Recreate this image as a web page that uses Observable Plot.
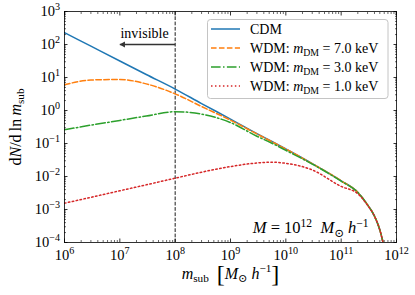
<!DOCTYPE html>
<html><head><meta charset="utf-8">
<script src="https://cdn.jsdelivr.net/npm/d3@7"></script>
<script src="https://cdn.jsdelivr.net/npm/@observablehq/plot@0.6"></script>
<style>
body{margin:0;background:#fff}
#chart{position:relative;width:415px;height:295px}
</style>
</head><body><div id="chart"></div>
<script>
// ---- data ----
const masses = [1e6, 3e6, 1e7, 3e7, 1e8, 3e8, 1e9, 3e9, 5.6e9, 1e10, 3e10, 1e11, 2e11, 3e11, 4e11, 5e11, 6e11];
const cdm  = [229, 89, 31.6, 12.3, 4.47, 1.62, 0.55, 0.20, 0.115, 0.068, 0.0245, 0.0074, 0.0033, 0.00138, 6.3e-4, 2.4e-4, 7e-5];
const wdm7 = [6.0, 8.4, 8.7, 6.4, 3.2, 1.32, 0.51, 0.195, 0.113, 0.068, 0.0245, 0.0074, 0.0033, 0.00138, 6.3e-4, 2.4e-4, 7e-5];
const wdm3 = [0.26, 0.36, 0.50, 0.68, 0.92, 0.78, 0.43, 0.166, 0.102, 0.062, 0.0238, 0.0072, 0.0033, 0.00138, 6.3e-4, 2.4e-4, 7e-5];
const wdm1 = [1.55e-3, 2.34e-3, 3.7e-3, 5.6e-3, 8.9e-3, 0.0135, 0.020, 0.0257, 0.0272, 0.0251, 0.0158, 0.0050, 0.0030, 0.00134, 6.3e-4, 2.4e-4, 7e-5];
const seriesValues = [cdm, wdm7, wdm3, wdm1];
const seriesNames = ["CDM", "WDM: $m$_{DM} = 7.0 keV", "WDM: $m$_{DM} = 3.0 keV", "WDM: $m$_{DM} = 1.0 keV"];

const xTicks = [1e6, 1e7, 1e8, 1e9, 1e10, 1e11, 1e12];
const xTickLabels = ["10^{6}", "10^{7}", "10^{8}", "10^{9}", "10^{10}", "10^{11}", "10^{12}"];
const yTicks = [1e-4, 1e-3, 1e-2, 1e-1, 1e0, 1e1, 1e2, 1e3];
const yTickLabels = ["10^{−4}", "10^{−3}", "10^{−2}", "10^{−1}", "10^{0}", "10^{1}", "10^{2}", "10^{3}"];

const threshold = [1e8];
const arrowX = [1e8, 1e7];
const arrowY = [100];
const invisibleLabel = ["invisible"];
const invisibleX = [2.8e7];
const hostLabel = ["$M$ = 10^{12}\u00a0\u00a0$M$_{⊙}\u00a0$h$^{−1}"];
const xLabel = ["$m$_{sub}\u00a0\u00a0#{[}$M$_{⊙}\u00a0$h$^{−1}#{]}"];
const yLabel = ["d$N$/d\u2009ln\u2009$m$_{sub}"];

// ---- styles ----
const FONT = "'Liberation Serif', 'DejaVu Serif', serif";
const seriesColors = ["#1f77b4", "#ff7f0e", "#2ca02c", "#d62728"];
const seriesDash = [null, "5.55,2.4", "9.6,2.4,1.5,2.4", "1.5,2.475"];

function minorTicks(majors) {
  const out = [];
  for (let i = 0; i < majors.length - 1; i++) for (let k = 2; k <= 9; k++) out.push(k * majors[i]);
  return out;
}
const xMinor = minorTicks(xTicks), yMinor = minorTicks(yTicks);

const noText = () => "";
const tickOpts = {tickFormat: noText, label: null, strokeWidth: 0.8, stroke: "black"};

const lines = seriesValues.map((vals, s) =>
  Plot.line(masses, {x: d => d, y: (d, i) => vals[i], stroke: seriesColors[s], strokeWidth: 1.5,
    strokeDasharray: seriesDash[s], curve: "monotone-x", clip: true}));

const svg = Plot.plot({
  width: 415, height: 295,
  marginLeft: 64, marginRight: 19, marginTop: 11, marginBottom: 53,
  style: {fontFamily: FONT, fontSize: "14px", background: "white", color: "black"},
  x: {type: "log", domain: [1e6, 1e12]},
  y: {type: "log", domain: [1e-4, 1e3]},
  marks: [
    Plot.axisX({...tickOpts, ticks: xTicks, anchor: "bottom", tickSize: -3.5}),
    Plot.axisX({...tickOpts, ticks: xTicks, anchor: "top", tickSize: -3.5}),
    Plot.axisX({...tickOpts, ticks: xMinor, anchor: "bottom", tickSize: -2, strokeWidth: 0.6}),
    Plot.axisX({...tickOpts, ticks: xMinor, anchor: "top", tickSize: -2, strokeWidth: 0.6}),
    Plot.axisY({...tickOpts, ticks: yTicks, anchor: "left", tickSize: -3.5}),
    Plot.axisY({...tickOpts, ticks: yTicks, anchor: "right", tickSize: -3.5}),
    Plot.axisY({...tickOpts, ticks: yMinor, anchor: "left", tickSize: -2, strokeWidth: 0.6}),
    Plot.axisY({...tickOpts, ticks: yMinor, anchor: "right", tickSize: -2, strokeWidth: 0.6}),
    Plot.ruleX(threshold, {x: d => d, stroke: "black", strokeWidth: 0.9, strokeDasharray: "3.7,1.6"}),
    ...lines,
    Plot.link(arrowY, {x1: arrowX[0], x2: arrowX[1], y1: d => d, y2: d => d, stroke: "#333", strokeWidth: 1.4}),
    Plot.dot(arrowY, {x: arrowX[1], y: d => d, symbol: "triangle", r: 2.3, rotate: -90, fill: "#333", stroke: "none", dx: 3.3}),
    Plot.text(invisibleLabel, {x: invisibleX, y: arrowY, text: d => d, dy: -11, fontSize: 14, textAnchor: "middle", lineAnchor: "middle"}),
    Plot.text(xTicks, {x: d => d, text: (d, i) => xTickLabels[i], frameAnchor: "bottom", textAnchor: "middle", lineAnchor: "middle", dy: 12.5, fontSize: 14.5}),
    Plot.text(yTicks, {y: d => d, text: (d, i) => yTickLabels[i], frameAnchor: "left", textAnchor: "end", lineAnchor: "middle", dx: -4.5, fontSize: 14.5}),
    Plot.text(xLabel, {text: d => d, frameAnchor: "bottom", textAnchor: "middle", lineAnchor: "middle", dy: 31, fontSize: 16}),
    Plot.text(yLabel, {text: d => d, frameAnchor: "left", textAnchor: "middle", lineAnchor: "middle", rotate: -90, dx: -49, fontSize: 16}),
    Plot.text(hostLabel, {text: d => d, frameAnchor: "bottom-right", textAnchor: "end", lineAnchor: "middle", dx: -28, dy: -14.5, fontSize: 16.5}),
    Plot.frame({stroke: "black", strokeWidth: 0.8})
  ]
});

document.getElementById("chart").appendChild(svg);

// ---- legend (inside the axes, top right) ----
const lg = d3.select(svg).append("g")
  .attr("font-family", FONT).attr("font-size", 14).attr("text-anchor", "start");
lg.append("rect").attr("x", 207.5).attr("y", 19.5).attr("width", 180.5).attr("height", 79).attr("rx", 3)
  .attr("fill", "white").attr("fill-opacity", 0.8).attr("stroke", "#c4c4c4").attr("stroke-width", 1);
seriesNames.forEach((name, i) => {
  const cy = 29 + 19 * i;
  lg.append("line").attr("x1", 211).attr("x2", 240).attr("y1", cy).attr("y2", cy)
    .attr("stroke", seriesColors[i]).attr("stroke-width", 1.5)
    .attr("stroke-dasharray", seriesDash[i]);
  lg.append("text").attr("x", 250).attr("y", cy + 4.8).attr("fill", "black")
    .attr("text-anchor", "start").text(name);
});

// ---- rich text: $italic$, ^{sup}, _{sub}, #{big} ----
function richify(root) {
  const NS = "http://www.w3.org/2000/svg";
  root.querySelectorAll("text").forEach(el => {
    const s = el.textContent;
    if (!/[\^_$#]/.test(s)) return;
    const fs = parseFloat(getComputedStyle(el).fontSize) || 14;
    el.textContent = "";
    let shift = 0;
    const re = /\$([^$]*)\$|\^\{([^}]*)\}|_\{([^}]*)\}|#\{([^}]*)\}|([^$^_#]+)/g;
    let m;
    while ((m = re.exec(s))) {
      const t = document.createElementNS(NS, "tspan");
      let target = 0, size = null, italic = false, txt;
      if (m[1] != null) { txt = m[1]; italic = true; }
      else if (m[2] != null) { txt = m[2]; target = -0.40 * fs; size = 0.7 * fs; }
      else if (m[3] != null) { txt = m[3]; target = 0.22 * fs; size = 0.7 * fs; }
      else if (m[4] != null) { txt = m[4]; target = 0.2 * fs; size = 1.5 * fs; }
      else txt = m[5];
      const d = target - shift;
      if (Math.abs(d) > 1e-6) t.setAttribute("dy", d.toFixed(2));
      shift = target;
      if (size) t.setAttribute("font-size", size.toFixed(2));
      if (italic) t.setAttribute("font-style", "italic");
      t.textContent = txt;
      el.appendChild(t);
    }
  });
}
richify(svg);
</script>
</body></html>
